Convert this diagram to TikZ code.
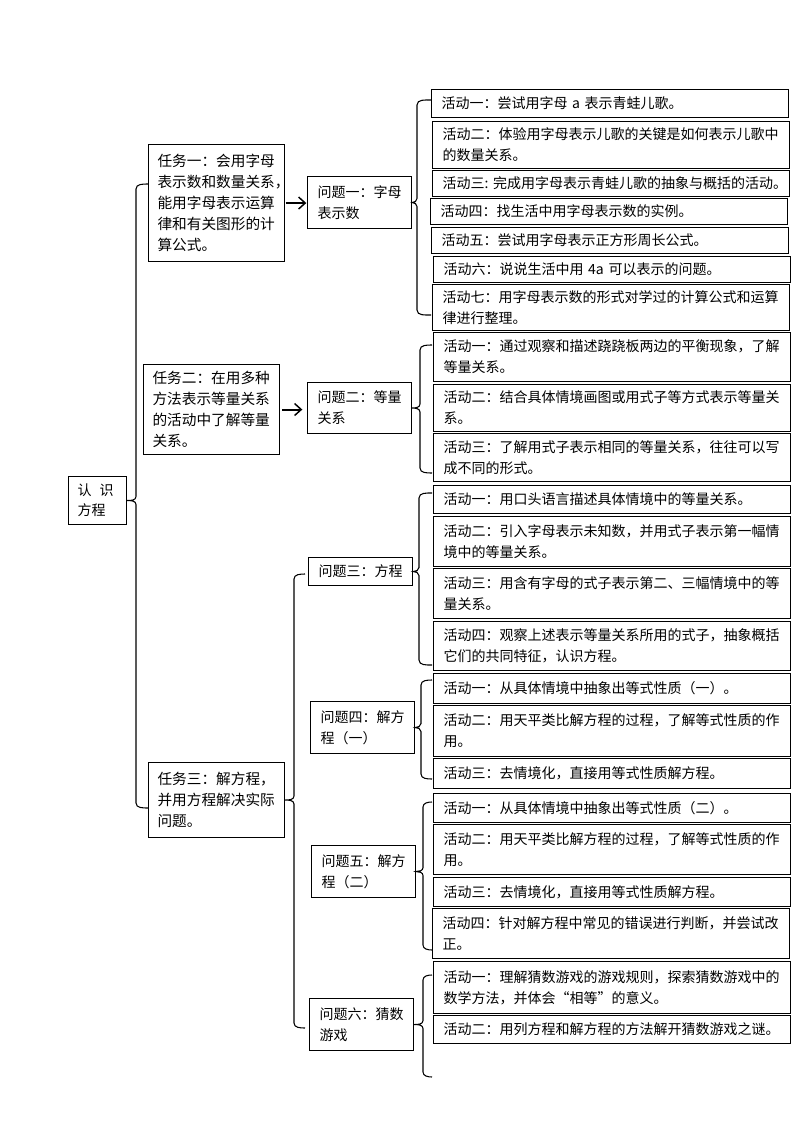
\documentclass[tikz,border=0pt]{standalone}
\usepackage{fontspec}
\setmainfont{Noto Sans CJK SC}
\usetikzlibrary{arrows.meta,calc}
\tikzset{
  conn/.style={line width=0.8pt, black},
  arr/.style={line width=1.5pt, -{Straight Barb[length=5pt,width=9pt,line width=1.1pt]}},
  base/.style={draw, line width=0.8pt, anchor=north west, inner ysep=0pt, align=left,
    font=\fontsize{10.5pt}{15.75pt}\selectfont},
  boxh/.style={minimum height=#1*0.75pt},
  act/.style={base, text width=253pt, inner xsep=7.5pt},
  task/.style={base, text width=88.5pt, inner xsep=6.75pt, font=\fontsize{11pt}{15.75pt}\selectfont},
  prob/.style={base, text width=63pt, inner xsep=7.5pt},
  rootbox/.style={base, text width=30pt, inner xsep=6.75pt, font=\fontsize{10.5pt}{15pt}\selectfont}
}
% #1 parent node, #2 vertical x, #3 top y, #4 bottom y, #5 hook end x
\newcommand\Brace[5]{%
  \draw[conn] (#5,#3) to[out=180,in=90] (#2,#3+5)
    -- ($(#1.east -| #2,0)+(0,-4)$) to[out=-90,in=0] (#1.east)
    to[out=0,in=90] ($(#1.east -| #2,0)+(0,4)$)
    -- (#2,#4-5) to[out=-90,in=180] (#5,#4);}
\begin{document}
\begin{tikzpicture}[x=0.75pt,y=-0.75pt]
\fill[white] (0,0) rectangle (794,1123);
\useasboundingbox (0,0) rectangle (794,1123);

% root
\node[rootbox,boxh=48] (root) at (68,476) {认\hspace{6pt}识\\方程};

% tasks
\node[task,boxh=117] (t1) at (148,144) {任务一：会用字母\\表示数和数量关系\makebox[0.5em][l]{，}\\能用字母表示运算\\律和有关图形的计\\算公式。};
\node[task,boxh=90] (t2) at (143,364) {任务二：在用多种\\方法表示等量关系\\的活动中了解等量\\关系。};
\node[task,boxh=75] (t3) at (148,762) {任务三：解方程，\\并用方程解决实际\\问题。};

% problems
\node[prob,boxh=52] (q1) at (307,176) {问题一：字母\\表示数};
\node[prob,boxh=51] (q2) at (307,382) {问题二：等量\\关系};
\node[prob,boxh=28] (q3) at (308,557) {问题三：方程};
\node[prob,boxh=52] (q4) at (310,701) {问题四：解方\\程（一）};
\node[prob,boxh=52] (q5) at (311,845) {问题五：解方\\程（二）};
\node[prob,boxh=52] (q6) at (309,998) {问题六：猜数\\游戏};

% activities of problem 1
\node[act,boxh=28] (a1) at (431,89) {活动一：尝试用字母 a 表示青蛙儿歌。};
\node[act,boxh=47] (a2) at (432,121) {活动二：体验用字母表示儿歌的关键是如何表示儿歌中\\的数量关系。};
\node[act,boxh=26] (a3) at (432,170) {\mbox{活动三:~完成用字母表示青蛙儿歌的抽象与概括的活动。}};
\node[act,boxh=26] (a4) at (430,198) {活动四：找生活中用字母表示数的实例。};
\node[act,boxh=26] (a5) at (431,227) {活动五：尝试用字母表示正方形周长公式。};
\node[act,boxh=26] (a6) at (433,256) {活动六：说说生活中用 4a 可以表示的问题。};
\node[act,boxh=46] (a7) at (432,284) {活动七：用字母表示数的形式对学过的计算公式和运算\\律进行整理。};

% problem 2
\node[act,boxh=49] (b1) at (433,332) {活动一：通过观察和描述跷跷板两边的平衡现象，了解\\等量关系。};
\node[act,boxh=47] (b2) at (433,384) {活动二：结合具体情境画图或用式子等方式表示等量关\\系。};
\node[act,boxh=48] (b3) at (433,433) {活动三：了解用式子表示相同的等量关系，往往可以写\\成不同的形式。};

% problem 3
\node[act,boxh=28] (c1) at (433,485) {活动一：用口头语言描述具体情境中的等量关系。};
\node[act,boxh=50] (c2) at (433,516) {活动二：引入字母表示未知数，并用式子表示第一幅情\\境中的等量关系。};
\node[act,boxh=50] (c3) at (433,568) {活动三：用含有字母的式子表示第二、三幅情境中的等\\量关系。};
\node[act,boxh=49] (c4) at (433,621) {活动四：观察上述表示等量关系所用的式子，抽象概括\\它们的共同特征，认识方程。};

% problem 4
\node[act,boxh=30] (d1) at (433,673) {活动一：从具体情境中抽象出等式性质（一）。};
\node[act,boxh=51] (d2) at (433,705) {活动二：用天平类比解方程的过程，了解等式性质的作\\用。};
\node[act,boxh=30] (d3) at (433,758) {活动三：去情境化，直接用等式性质解方程。};

% problem 5
\node[act,boxh=29] (e1) at (433,793) {活动一：从具体情境中抽象出等式性质（二）。};
\node[act,boxh=50] (e2) at (433,824) {活动二：用天平类比解方程的过程，了解等式性质的作\\用。};
\node[act,boxh=29] (e3) at (433,877) {活动三：去情境化，直接用等式性质解方程。};
\node[act,boxh=50] (e4) at (432,908) {活动四：针对解方程中常见的错误进行判断，并尝试改\\正。};

% problem 6
\node[act,boxh=52] (f1) at (433,961) {活动一：理解猜数游戏的游戏规则，探索猜数游戏中的\\数学方法，并体会“相等”的意义。};
\node[act,boxh=28] (f2) at (433,1015) {活动二：用列方程和解方程的方法解开猜数游戏之谜。};

% arrows
\draw[arr, shorten <=0.5pt, shorten >=0.5pt] (t1.east) -- (t1.east -| q1.west);
\draw[arr, shorten <=1.5pt, shorten >=3.5pt] (t2.east) -- (t2.east -| q2.west);

% braces
\Brace{root}{136}{184}{808}{148}
\Brace{t3}{294}{574}{1028}{305}
\Brace{q1}{417}{100}{315}{431}
\Brace{q2}{420}{345}{473}{432}
\Brace{q3}{419}{493}{665}{432}
\Brace{q4}{421}{680}{779}{432}
\Brace{q5}{423}{802}{950}{432}
\Brace{q6}{423}{975}{1077}{432}
\end{tikzpicture}
\end{document}
